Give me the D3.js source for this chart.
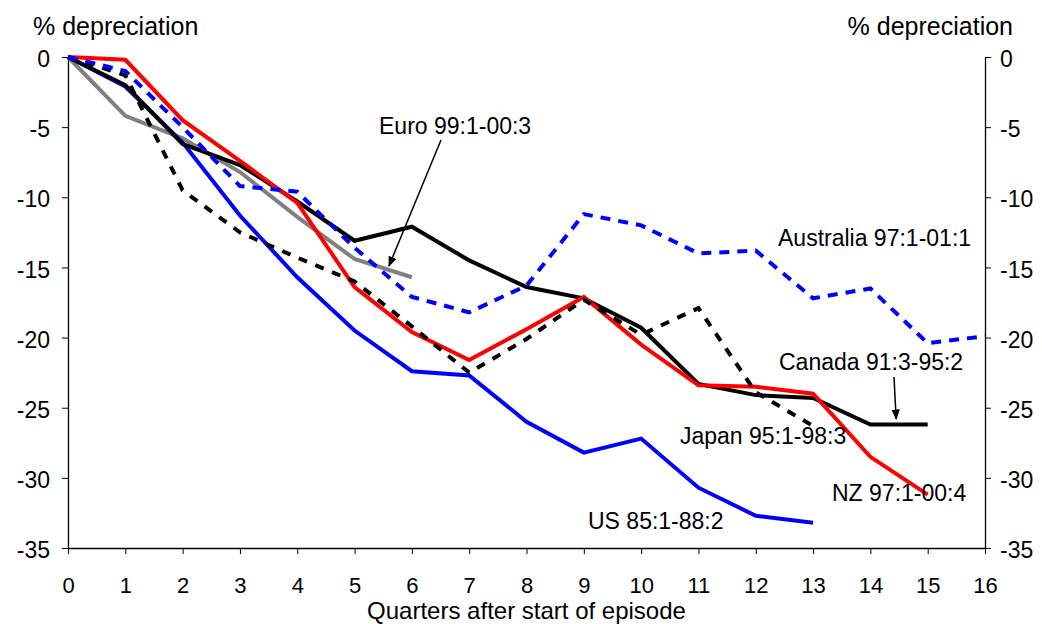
<!DOCTYPE html>
<html>
<head>
<meta charset="utf-8">
<script src="https://cdn.jsdelivr.net/npm/d3@7"></script>
<style>
  body { margin: 0; background: #fff; }
  text { font-family: Arial, "Liberation Sans", sans-serif; fill: #000; }
</style>
</head>
<body>
<svg id="chart" width="1042" height="624"></svg>
<script>
const quarters = d3.range(0, 17);
const yTicks = [0, -5, -10, -15, -20, -25, -30, -35];

const usValues = [0, -2.1, -6.1, -11.3, -15.7, -19.5, -22.4, -22.7, -26.0, -28.2, -27.2, -30.7, -32.7, -33.2];
const canadaValues = [0, -2.0, -6.2, -7.7, -10.3, -13.1, -12.1, -14.5, -16.4, -17.2, -19.3, -23.3, -24.1, -24.3, -26.2, -26.2];
const nzValues = [0, -0.2, -4.5, -7.4, -10.4, -16.4, -19.6, -21.6, -19.4, -17.1, -20.5, -23.4, -23.5, -24.0, -28.5, -31.2];
const japanValues = [0, -1.3, -9.5, -12.5, -14.3, -16.0, -19.2, -22.5, -20.1, -17.3, -19.8, -17.9, -23.9, -26.3];
const australiaValues = [0, -1.0, -5.0, -9.2, -9.6, -13.6, -17.1, -18.2, -16.3, -11.2, -12.0, -14.0, -13.8, -17.2, -16.5, -20.4, -19.9];
const euroValues = [0, -4.2, -5.8, -8.2, -11.4, -14.4, -15.7];

const series = [
  { name: 'Euro', values: euroValues, color: '#808080', dash: null },
  { name: 'US', values: usValues, color: '#0000ff', dash: null },
  { name: 'Canada', values: canadaValues, color: '#000000', dash: null },
  { name: 'NZ', values: nzValues, color: '#ff0000', dash: null },
  { name: 'Japan', values: japanValues, color: '#000000', dash: '9,9' },
  { name: 'Australia', values: australiaValues, color: '#0000ff', dash: '10,8' },
];

const svg = d3.select('#chart');
const margin = { top: 57, right: 57, bottom: 76, left: 68 };
const width = 1042 - margin.left - margin.right;
const height = 624 - margin.top - margin.bottom;

const x = d3.scaleLinear().domain([0, 16]).range([0, width]);
const y = d3.scaleLinear().domain([-35, 0]).range([height, 0]);

const chart = svg.append('g').attr('transform', `translate(${margin.left},${margin.top})`);

// axes (hyphen minus like the original, not the unicode minus)
const fmt = (d) => String(d);
const styleAxis = (size) => (g) => {
  g.selectAll('.domain').attr('stroke', '#000').attr('stroke-width', 1.3);
  g.selectAll('.tick line').attr('stroke', '#000').attr('stroke-width', 1);
  g.selectAll('.tick text').style('font-size', size).style('font-family', 'Arial, "Liberation Sans", sans-serif');
};

chart.append('g')
  .call(d3.axisLeft(y).tickValues(yTicks).tickFormat(fmt).tickSize(6).tickPadding(12).tickSizeOuter(0))
  .call(styleAxis('23px'))
  .selectAll('.tick text').attr('dy', '0.42em');

chart.append('g')
  .attr('transform', `translate(${width},0)`)
  .call(d3.axisRight(y).tickValues(yTicks).tickFormat(fmt).tickSize(6).tickPadding(9).tickSizeOuter(0))
  .call(styleAxis('23px'))
  .selectAll('.tick text').attr('dy', '0.42em');

chart.append('g')
  .attr('transform', `translate(0,${height})`)
  .call(d3.axisBottom(x).tickValues(quarters).tickFormat(fmt).tickSize(6).tickPadding(23).tickSizeOuter(0))
  .call(styleAxis('22px'));

// axis titles
svg.append('text').attr('x', 33).attr('y', 35).style('font-size', '25px').text('% depreciation');
svg.append('text').attr('x', 1013).attr('y', 35).attr('text-anchor', 'end').style('font-size', '25px').text('% depreciation');
svg.append('text').attr('x', margin.left + width / 2).attr('y', 619).attr('text-anchor', 'middle')
  .style('font-size', '24px').text('Quarters after start of episode');

// lines
const line = d3.line().x((d, i) => x(i)).y((d) => y(d));

chart.selectAll('path.series')
  .data(series)
  .join('path')
  .attr('class', 'series')
  .attr('d', (d) => line(d.values))
  .attr('fill', 'none')
  .attr('stroke', (d) => d.color)
  .attr('stroke-width', 4)
  .attr('stroke-dasharray', (d) => d.dash)
  .attr('stroke-linejoin', 'miter');

// annotations
svg.append('defs').append('marker')
  .attr('id', 'arrow')
  .attr('viewBox', '0 0 10 10')
  .attr('refX', 9).attr('refY', 5)
  .attr('markerWidth', 7).attr('markerHeight', 7)
  .attr('orient', 'auto')
  .append('path').attr('d', 'M0,1 L10,5 L0,9 Z').attr('fill', '#000');

const labels = [
  { text: 'Euro 99:1-00:3', x: 379, y: 134 },
  { text: 'Australia 97:1-01:1', x: 778, y: 246 },
  { text: 'Canada 91:3-95:2', x: 779, y: 370 },
  { text: 'Japan 95:1-98:3', x: 680, y: 444 },
  { text: 'NZ 97:1-00:4', x: 832, y: 501 },
  { text: 'US 85:1-88:2', x: 588, y: 529 },
];

svg.selectAll('text.label')
  .data(labels)
  .join('text')
  .attr('class', 'label')
  .attr('x', (d) => d.x)
  .attr('y', (d) => d.y)
  .style('font-size', '23px')
  .text((d) => d.text);

// arrows pointing at Euro and Canada lines
svg.append('line')
  .attr('x1', 441).attr('y1', 140)
  .attr('x2', margin.left + x(5.6)).attr('y2', margin.top + y(-14.9))
  .attr('stroke', '#000').attr('stroke-width', 1.5)
  .attr('marker-end', 'url(#arrow)');

svg.append('line')
  .attr('x1', 894).attr('y1', 377)
  .attr('x2', margin.left + x(14.45)).attr('y2', margin.top + y(-25.8))
  .attr('stroke', '#000').attr('stroke-width', 1.5)
  .attr('marker-end', 'url(#arrow)');
</script>
</body>
</html>
